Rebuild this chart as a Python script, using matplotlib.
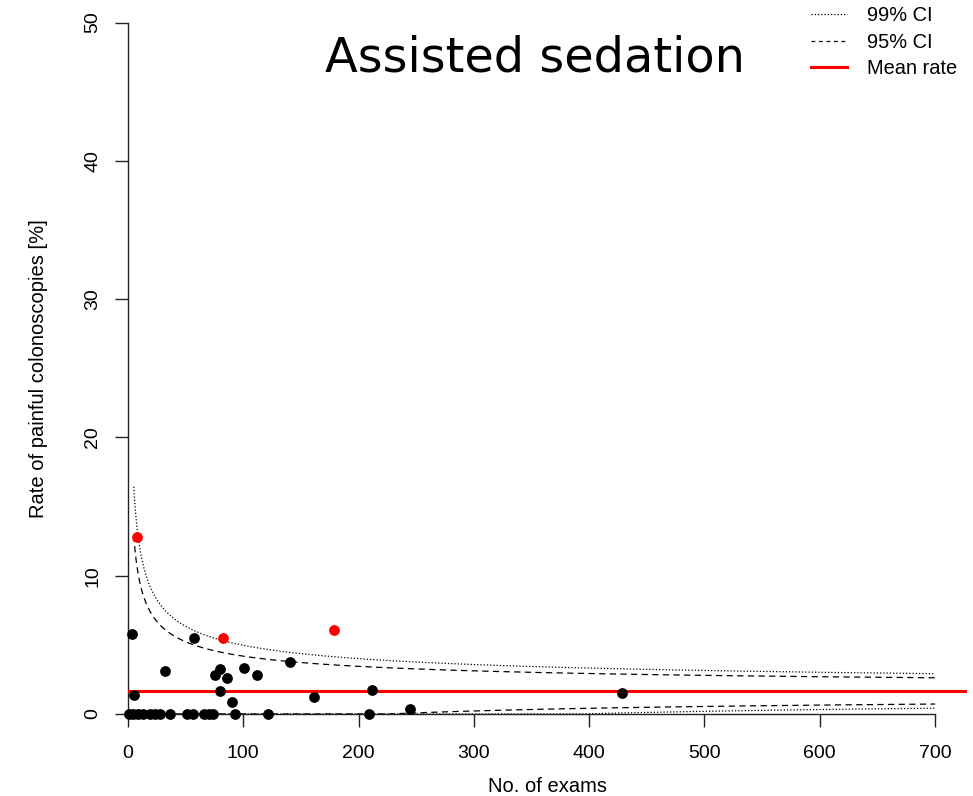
import numpy as np
import matplotlib
matplotlib.use("Agg")
import matplotlib.pyplot as plt
from matplotlib.lines import Line2D

# ---- data ----
mean_rate = 1.67  # %
n_ci = np.arange(5, 701)

exams_black = [3.5, 5.2, 57, 32, 75.5, 80, 86, 100.6, 112, 140.5, 80, 90, 161, 211.6, 244.6, 428.4,
               1, 4, 9, 13, 19, 23, 28, 36, 51, 56, 66, 70, 74, 93, 121, 209]
rate_black = [5.78, 1.37, 5.5, 3.11, 2.82, 3.25, 2.6, 3.33, 2.82, 3.76, 1.66, 0.87, 1.23, 1.74, 0.36, 1.52,
              0, 0, 0, 0, 0, 0, 0, 0, 0, 0, 0, 0, 0, 0, 0, 0]
exams_red = [7.8, 82.4, 178.7]
rate_red = [12.8, 5.5, 6.07]

x_ticks = [0, 100, 200, 300, 400, 500, 600, 700]
y_ticks = [0, 10, 20, 30, 40, 50]

# funnel limits (normal approximation around the mean rate)
p = mean_rate / 100
se = np.sqrt(p * (1 - p) / n_ci)
up95 = (p + 1.959964 * se) * 100
lo95 = np.maximum(0, p - 1.959964 * se) * 100
up99 = (p + 2.575829 * se) * 100
lo99 = np.maximum(0, p - 2.575829 * se) * 100

plt.rcParams['font.family'] = ['Liberation Sans', 'DejaVu Sans']

fig = plt.figure(figsize=(9.73, 7.96), dpi=100)
ax = fig.add_axes([128/973, 1 - 714/796, (967 - 128)/973, (714 - 22.5)/796])

dot = (0, (1, 1.6))
dash = (0, (5, 3.5))
ax.plot(n_ci, up99, color='black', lw=0.9, ls=dot)
ax.plot(n_ci, lo99, color='black', lw=0.9, ls=dot)
ax.plot(n_ci, up95, color='black', lw=0.9, ls=dash)
ax.plot(n_ci, lo95, color='black', lw=0.9, ls=dash)
ax.axhline(mean_rate, color='#ff0000', lw=2.2, zorder=3)

ax.scatter(exams_black, rate_black, s=60, color='black', zorder=4, clip_on=False, linewidths=0)
ax.scatter(exams_red, rate_red, s=60, color='#ff0000', zorder=4, clip_on=False, linewidths=0)

ax.set_xlim(0, 727.7)
ax.set_ylim(0, 50)
for s in ['top', 'right']:
    ax.spines[s].set_visible(False)
ax.spines['left'].set_bounds(0, 50)
ax.spines['bottom'].set_bounds(0, 700)
for s in ['left', 'bottom']:
    ax.spines[s].set_linewidth(1.0)
    ax.spines[s].set_color('#222222')

ax.set_xticks(x_ticks)
ax.set_yticks(y_ticks)
ax.tick_params(axis='both', length=9.4, width=1.0, color='#222222', labelsize=14)
ax.tick_params(axis='x', pad=13.0)
ax.tick_params(axis='y', pad=10.0)
for lab in ax.get_yticklabels():
    lab.set_rotation(90)
    lab.set_va('center')

ax.set_xlabel('No. of exams', fontsize=14.5, labelpad=11)
ax.set_ylabel('Rate of painful colonoscopies [%]', fontsize=14.5, labelpad=26)

fig.text(535/973, 1 - 71/796, 'Assisted sedation', family='DejaVu Sans', fontsize=34.5,
         ha='center', va='baseline')

handles = [Line2D([], [], color='black', lw=0.9, ls=(0, (1, 1.6))),
           Line2D([], [], color='black', lw=0.9, ls=(0, (3, 3))),
           Line2D([], [], color='#ff0000', lw=2.2)]
fig.legend(handles, ['99% CI', '95% CI', 'Mean rate'], loc='upper left',
           bbox_to_anchor=(811/973, 1 - 6/796), frameon=False, fontsize=14.4,
           handlelength=1.8, handletextpad=1.0, labelspacing=0.38,
           borderpad=0, borderaxespad=0)

fig.savefig('out.png', dpi=100)
